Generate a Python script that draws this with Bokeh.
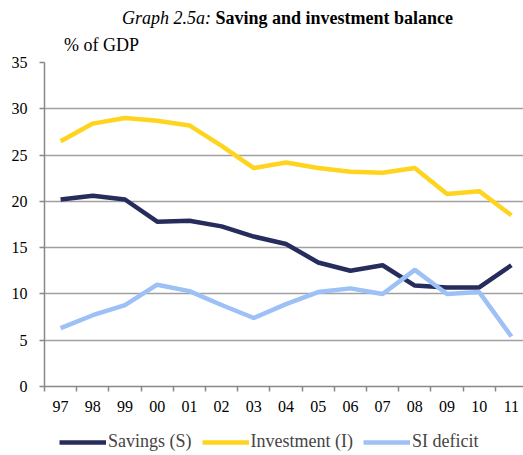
import numpy as np
from bokeh.plotting import figure
from bokeh.layouts import column
from bokeh.models import (Range1d, FixedTicker, Legend, LegendItem, Div)
from bokeh.embed import file_html
from bokeh.resources import INLINE

years = ["97", "98", "99", "00", "01", "02", "03", "04", "05", "06", "07", "08", "09", "10", "11"]
savings = [20.2, 20.6, 20.2, 17.8, 17.9, 17.3, 16.2, 15.4, 13.4, 12.5, 13.1, 10.9, 10.7, 10.7, 13.1]
investment = [26.5, 28.4, 29.0, 28.7, 28.2, 26.0, 23.6, 24.2, 23.6, 23.2, 23.1, 23.6, 20.8, 21.1, 18.5]
si_deficit = [6.3, 7.7, 8.8, 11.0, 10.3, 8.8, 7.4, 8.9, 10.2, 10.6, 10.0, 12.6, 10.0, 10.2, 5.4]
y_ticks = [0, 5, 10, 15, 20, 25, 30, 35]
series_names = ["Savings (S)", "Investment (I)", "SI deficit"]
series_colors = ["#262C5C", "#FFD41E", "#9DC0F6"]
title_italic = "Graph 2.5a:"
title_bold = "Saving and investment balance"
unit_label = "% of GDP"

FONT = "'Liberation Serif'"
x = list(range(len(years)))
series = [savings, investment, si_deficit]

p = figure(width=523, height=372, output_backend="svg", toolbar_location=None,
           x_range=Range1d(-0.5, -0.5 + 479 / 32.2), y_range=Range1d(0, 35),
           min_border_left=44, min_border_right=0, min_border_top=8, min_border_bottom=40)
p.outline_line_color = None
p.background_fill_color = "white"
p.border_fill_color = "white"

for vals, col in zip(series, series_colors):
    p.line(x, vals, line_color=col, line_width=4.5)

xa = p.xaxis[0]
xa.ticker = FixedTicker(ticks=x, minor_ticks=[i - 0.5 for i in range(len(years) + 1)])
xa.major_label_overrides = {i: y for i, y in enumerate(years)}
xa.major_tick_line_color = None
xa.major_tick_out = 5
xa.major_tick_in = 0
xa.minor_tick_line_color = "#888888"
xa.minor_tick_line_width = 1.5
xa.minor_tick_out = 5
xa.minor_tick_in = 0
xa.axis_line_color = "#888888"
xa.axis_line_width = 1.5
xa.major_label_text_font = FONT
xa.major_label_text_font_size = "16px"
xa.major_label_text_color = "black"
xa.major_label_standoff = 9

ya = p.yaxis[0]
ya.ticker = FixedTicker(ticks=y_ticks)
ya.major_tick_line_color = "#888888"
ya.major_tick_out = 5
ya.major_tick_in = 0
ya.major_tick_line_width = 1.5
ya.minor_tick_line_color = None
ya.axis_line_color = "#888888"
ya.axis_line_width = 1.5
ya.major_label_text_font = FONT
ya.major_label_text_font_size = "16px"
ya.major_label_text_color = "black"
ya.major_label_standoff = 12

p.xgrid.grid_line_color = None
p.ygrid.ticker = FixedTicker(ticks=y_ticks)
p.ygrid.grid_line_color = "#a0a0a0"
p.ygrid.grid_line_width = 1.5

lg = figure(width=523, height=28, output_backend="svg", toolbar_location=None,
            x_axis_type=None, y_axis_type=None, x_range=Range1d(0, 1), y_range=Range1d(0, 1),
            min_border=0)
lg.outline_line_color = None
lg.grid.grid_line_color = None
items = []
for name, vals, col in zip(series_names, series, series_colors):
    r = lg.line(x, vals, line_color=col, line_width=4.5, visible=False)
    items.append(LegendItem(label=name, renderers=[r]))
legend = Legend(items=items, orientation="horizontal", location=(15, 2),
                label_text_font=FONT, label_text_font_size="18px",
                glyph_width=47, glyph_height=20, label_standoff=2, spacing=10,
                padding=2, margin=0, border_line_color=None,
                background_fill_alpha=0, click_policy="none")
lg.add_layout(legend)

head_html = (
    f'<div style="box-sizing:border-box;padding-left:52px;width:523px;height:20px;'
    f'line-height:20px;text-align:center;white-space:nowrap">'
    f'<i>{title_italic}</i> <b>{title_bold}</b></div>'
    f'<div style="margin-top:7px;padding-left:64px;height:20px;line-height:20px">{unit_label}</div>'
)
head = Div(text=head_html, width=523, height=46, margin=(8, 0, 0, 0),
           styles={"font-family": "'Liberation Serif'", "font-size": "18px", "color": "black"})

layout = column(head, p, lg, spacing=0)
open("out.html", "w").write(file_html(layout, INLINE))
